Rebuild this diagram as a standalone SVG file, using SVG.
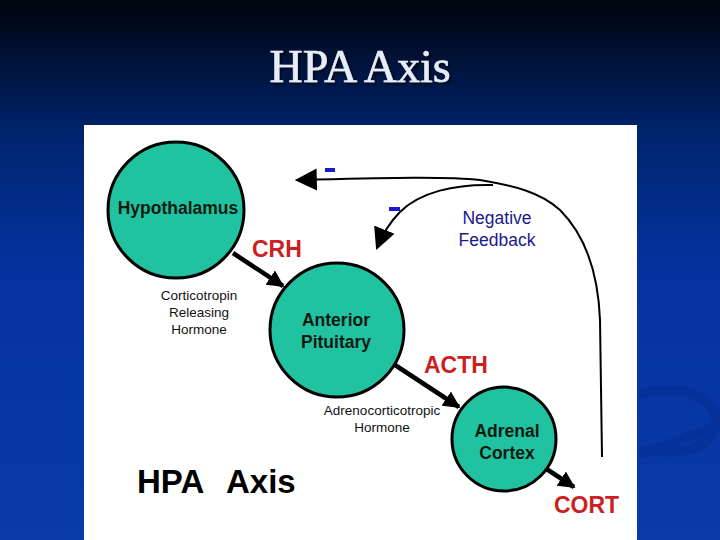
<svg xmlns="http://www.w3.org/2000/svg" width="720" height="540" viewBox="0 0 720 540">
<defs>
<linearGradient id="bg" x1="0" y1="0" x2="0" y2="1">
<stop offset="0" stop-color="#00040c"/>
<stop offset="0.25" stop-color="#00246e"/>
<stop offset="0.5" stop-color="#0433a0"/>
<stop offset="1" stop-color="#0a3aa8"/>
</linearGradient>
<filter id="sh" x="-10%" y="-20%" width="120%" height="150%">
<feDropShadow dx="2" dy="2" stdDeviation="0.8" flood-color="#000" flood-opacity="0.6"/>
</filter>
<marker id="ah" viewBox="0 0 10 10" refX="9" refY="5" markerWidth="17" markerHeight="17" markerUnits="userSpaceOnUse" orient="auto">
<path d="M0,0 L10,5 L0,10 Z" fill="#000"/>
</marker>
<marker id="ahf" viewBox="0 0 10 10" refX="9" refY="5" markerWidth="22" markerHeight="24" markerUnits="userSpaceOnUse" orient="auto">
<path d="M0,0 L10,5 L0,10 Z" fill="#000"/>
</marker>
<style>
.node{fill:#20c29f;stroke:#000;stroke-width:3}
.lbl{font-family:"Liberation Sans",Arial,sans-serif;font-weight:bold;font-size:17.5px;fill:#0d1a14;text-anchor:middle}
.red{font-family:"Liberation Sans",Arial,sans-serif;font-weight:bold;font-size:23px;fill:#cc1f1f}
.sm{font-family:"Liberation Sans",Arial,sans-serif;font-size:13.5px;fill:#111;text-anchor:middle}
.fb{font-family:"Liberation Sans",Arial,sans-serif;font-size:17.5px;fill:#1a1a8c;text-anchor:middle}
.thick{stroke:#000;stroke-width:4.5;fill:none;marker-end:url(#ah)}
.thin{stroke:#000;stroke-width:2;fill:none}
</style>
</defs>
<rect x="0" y="0" width="720" height="540" fill="url(#bg)"/>
<g opacity="0.18" fill="none" stroke="#001a70" stroke-width="10">
<path d="M640,395 C680,380 725,400 715,430 C705,450 680,455 640,450"/>
<path d="M640,455 L720,425"/>
</g>
<text x="360" y="82" text-anchor="middle" font-family="'Liberation Serif','Times New Roman',serif" font-size="46" fill="#e8ecf8" stroke="#e8ecf8" stroke-width="0.6" filter="url(#sh)">HPA Axis</text>
<rect x="84" y="125" width="553" height="415" fill="#fff"/>

<g id="connectors">
<line class="thick" x1="233" y1="253" x2="283" y2="286"/>
<line class="thick" x1="395" y1="365" x2="459" y2="407"/>
<line class="thick" x1="545" y1="468" x2="574" y2="487"/>
<path class="thin" marker-end="url(#ahf)" d="M602,457 L600,320 C598,270 585,235 560,210 C540,192 515,186 480,180 C445,176 380,178 297,180"/>
<path class="thin" marker-end="url(#ahf)" d="M493,185 C455,184 420,192 400,212 C390,222 383,233 377,248"/>
<rect x="325" y="168" width="10" height="4" fill="#1a1acc"/>
<rect x="389" y="207" width="11" height="4" fill="#1a1acc"/>
</g>

<g id="hypothalamus">
<circle class="node" cx="176" cy="210" r="68"/>
<text class="lbl" x="178" y="214">Hypothalamus</text>
</g>
<g id="anterior-pituitary">
<circle class="node" cx="337" cy="330" r="67"/>
<text class="lbl" x="336" y="326">Anterior</text>
<text class="lbl" x="336" y="348">Pituitary</text>
</g>
<g id="adrenal-cortex">
<circle class="node" cx="504" cy="439" r="52"/>
<text class="lbl" x="507" y="437">Adrenal</text>
<text class="lbl" x="507" y="459">Cortex</text>
</g>

<g id="labels">
<text class="red" x="252" y="257">CRH</text>
<text class="sm" x="199" y="300">Corticotropin</text>
<text class="sm" x="199" y="317">Releasing</text>
<text class="sm" x="199" y="334">Hormone</text>
<text class="red" x="424" y="373">ACTH</text>
<text class="sm" x="382" y="415">Adrenocorticotropic</text>
<text class="sm" x="382" y="432">Hormone</text>
<text class="red" x="554" y="513">CORT</text>
<text class="fb" x="497" y="224">Negative</text>
<text class="fb" x="497" y="246">Feedback</text>
<text x="137" y="493" font-family="'Liberation Sans',Arial,sans-serif" font-weight="bold" font-size="33" fill="#000">HPA</text>
<text x="226" y="493" font-family="'Liberation Sans',Arial,sans-serif" font-weight="bold" font-size="33" fill="#000">Axis</text>
</g>
</svg>
